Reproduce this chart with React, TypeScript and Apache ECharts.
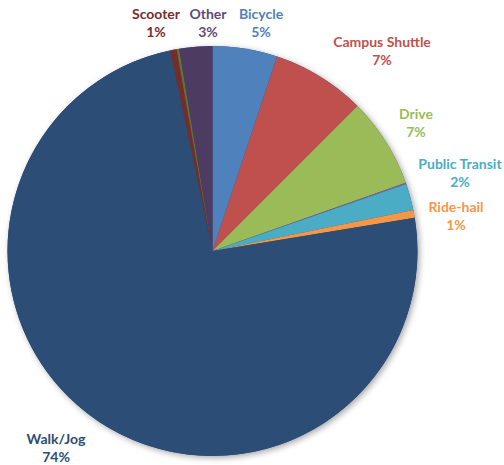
import React, { useEffect, useRef } from "react";
import * as echarts from "echarts";

const categories = [
  "Bicycle",
  "Campus Shuttle",
  "Drive",
  "Carpool",
  "Public Transit",
  "Ride-hail",
  "Walk/Jog",
  "Scooter",
  "Skateboard",
  "Other",
];
const shares = [5.1, 7.4, 7.1, 0.1, 2.1, 0.6, 74.3, 0.5, 0.2, 2.6];
const showLabel = [true, true, true, false, true, true, true, true, false, true];

const sliceColors = [
  "#4F81BD",
  "#C0504D",
  "#9BBB59",
  "#8064A2",
  "#4BACC6",
  "#F79646",
  "#2C4D75",
  "#772C2A",
  "#5F7530",
  "#4D3B62",
];
const labelColors = [
  "#4F81BD",
  "#C0504D",
  "#9BBB59",
  "#8064A2",
  "#4BACC6",
  "#F79646",
  "#2C4D75",
  "#772C2A",
  "#5F7530",
  "#5F497A",
];
// label anchor points (centre of the two-line label)
const labelAnchors: [number, number][] = [
  [261, 22],
  [382, 50],
  [416, 122],
  [0, 0],
  [460, 172],
  [456, 215],
  [56, 447],
  [156, 22],
  [0, 0],
  [208, 22],
];

export default function App() {
  const ref = useRef<HTMLDivElement>(null);
  useEffect(() => {
    if (!ref.current) return;
    const chart = echarts.init(ref.current, undefined, { renderer: "svg" });
    const data = categories.map((name, i) => ({
      name,
      value: shares[i],
      itemStyle: { color: sliceColors[i] },
      label: {
        show: showLabel[i],
        color: labelColors[i],
      },
    }));
    chart.setOption({
      animation: false,
      backgroundColor: "#ffffff",
      series: [
        {
          type: "pie",
          silent: true,
          center: [212.5, 251],
          radius: 205,
          startAngle: 90,
          clockwise: true,
          label: { show: false },
          labelLine: { show: false },
          data: [
            {
              value: 1,
              name: "",
              itemStyle: {
                color: "#2C4D75",
                shadowBlur: 6,
                shadowOffsetX: 2,
                shadowOffsetY: 2,
                shadowColor: "rgba(0,0,0,0.35)",
              },
            },
          ],
          z: 1,
        },
        {
          type: "pie",
          center: [212.5, 251],
          radius: 205,
          startAngle: 90,
          clockwise: true,
          avoidLabelOverlap: false,
          minShowLabelAngle: 0,
          itemStyle: { borderWidth: 0 },
          label: {
            show: true,
            position: "outside",
            fontFamily: "Lato",
            fontWeight: "bold",
            fontSize: 14,
            lineHeight: 18,
            align: "center",
            formatter: (p: any) => `${p.name}\n${Math.round(p.value)}%`,
          },
          labelLine: { show: false },
          labelLayout: (params: any) => {
            const a = labelAnchors[params.dataIndex];
            return {
              x: a[0],
              y: a[1],
              align: "center",
              verticalAlign: "middle",
            };
          },
          data,
          z: 2,
        },
      ],
    });
    return () => chart.dispose();
  }, []);
  return (
    <div
      ref={ref}
      style={{ position: "fixed", left: 0, top: 0, width: 504, height: 465 }}
    />
  );
}
